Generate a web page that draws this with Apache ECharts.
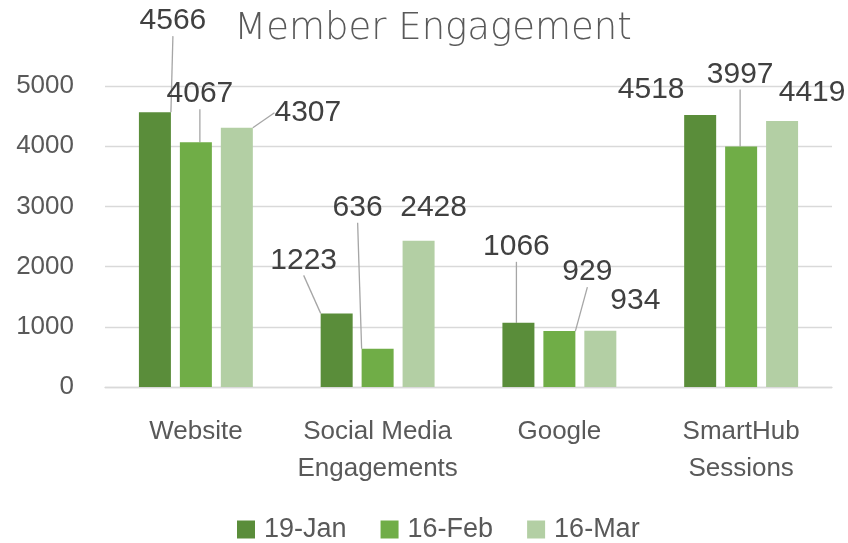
<!DOCTYPE html>
<html>
<head>
<meta charset="utf-8">
<script src="https://cdn.jsdelivr.net/npm/echarts@6/dist/echarts.min.js"></script>
<style>
  html, body { margin: 0; padding: 0; background: #fff; }
  #chart { width: 848px; height: 543px; }
</style>
</head>
<body>
<div id="chart"></div>
<script>
var categories = ["Website", "Social Media\nEngagements", "Google", "SmartHub\nSessions"];
var seriesNames = ["19-Jan", "16-Feb", "16-Mar"];
var jan = [4566, 1223, 1066, 4518];
var feb = [4067, 636, 929, 3997];
var mar = [4307, 2428, 934, 4419];

var colors = ["#5a8d3a", "#70ad47", "#b3cfa4"];
// label offsets from bar top centre (px), and whether a leader line is drawn
var labelOffsets = [
  [[18, -91], [-33, -53], [-2, -76], [-49, -25]],
  [[4, -48], [-20, -141], [28, -59], [-1, -72]],
  [[71, -15], [15, -33], [35, -30], [30, -28]]
];
var showLines = [
  [true, true, true, false],
  [true, true, true, true],
  [true, false, false, false]
];

var font = "Liberation Sans";
var chart = echarts.init(document.getElementById("chart"));

function makeSeries(name, values, idx) {
  return {
    name: name,
    type: "bar",
    barWidth: 32,
    barGap: "28%",
    itemStyle: { color: colors[idx] },
    data: values.map(function (v, i) {
      return { value: v, labelLine: { show: showLines[idx][i] } };
    }),
    label: {
      show: true,
      position: "top",
      color: "#404040",
      fontFamily: font,
      fontSize: 30
    },
    labelLine: {
      show: true,
      lineStyle: { color: "#a6a6a6", width: 1.3 }
    },
    labelLayout: function (p) {
      var o = labelOffsets[p.seriesIndex][p.dataIndex];
      return {
        x: p.rect.x + p.rect.width / 2 + o[0],
        y: p.rect.y + o[1],
        align: "center",
        verticalAlign: "middle"
      };
    }
  };
}

chart.setOption({
  animation: false,
  color: colors,
  title: {
    text: "Member Engagement",
    left: 428,
    textAlign: "center",
    top: 6,
    textStyle: {
      color: "#595959",
      fontFamily: "DejaVu Sans",
      fontWeight: "lighter",
      fontSize: 37
    }
  },
  legend: {
    data: seriesNames,
    top: 511,
    left: 232,
    itemWidth: 18,
    itemHeight: 18,
    itemGap: 34,
    icon: "rect",
    textStyle: { color: "#595959", fontFamily: font, fontSize: 27, padding: [0, 0, 0, 4] }
  },
  grid: { left: 105, right: 16, top: 86, bottom: 156 },
  xAxis: {
    type: "category",
    data: categories,
    axisLine: { lineStyle: { color: "#d9d9d9", width: 1.3 } },
    axisTick: { show: false },
    axisLabel: {
      interval: 0,
      color: "#595959",
      fontFamily: font,
      fontSize: 26,
      lineHeight: 37,
      margin: 26
    }
  },
  yAxis: {
    type: "value",
    min: 0,
    max: 5000,
    interval: 1000,
    axisLine: { show: false },
    axisTick: { show: false },
    splitLine: { lineStyle: { color: "#d9d9d9", width: 1.3 } },
    axisLabel: {
      formatter: function (v) { return String(v); },
      color: "#595959",
      fontFamily: font,
      fontSize: 26,
      margin: 31
    }
  },
  series: [
    makeSeries(seriesNames[0], jan, 0),
    makeSeries(seriesNames[1], feb, 1),
    makeSeries(seriesNames[2], mar, 2)
  ]
});
</script>
</body>
</html>
